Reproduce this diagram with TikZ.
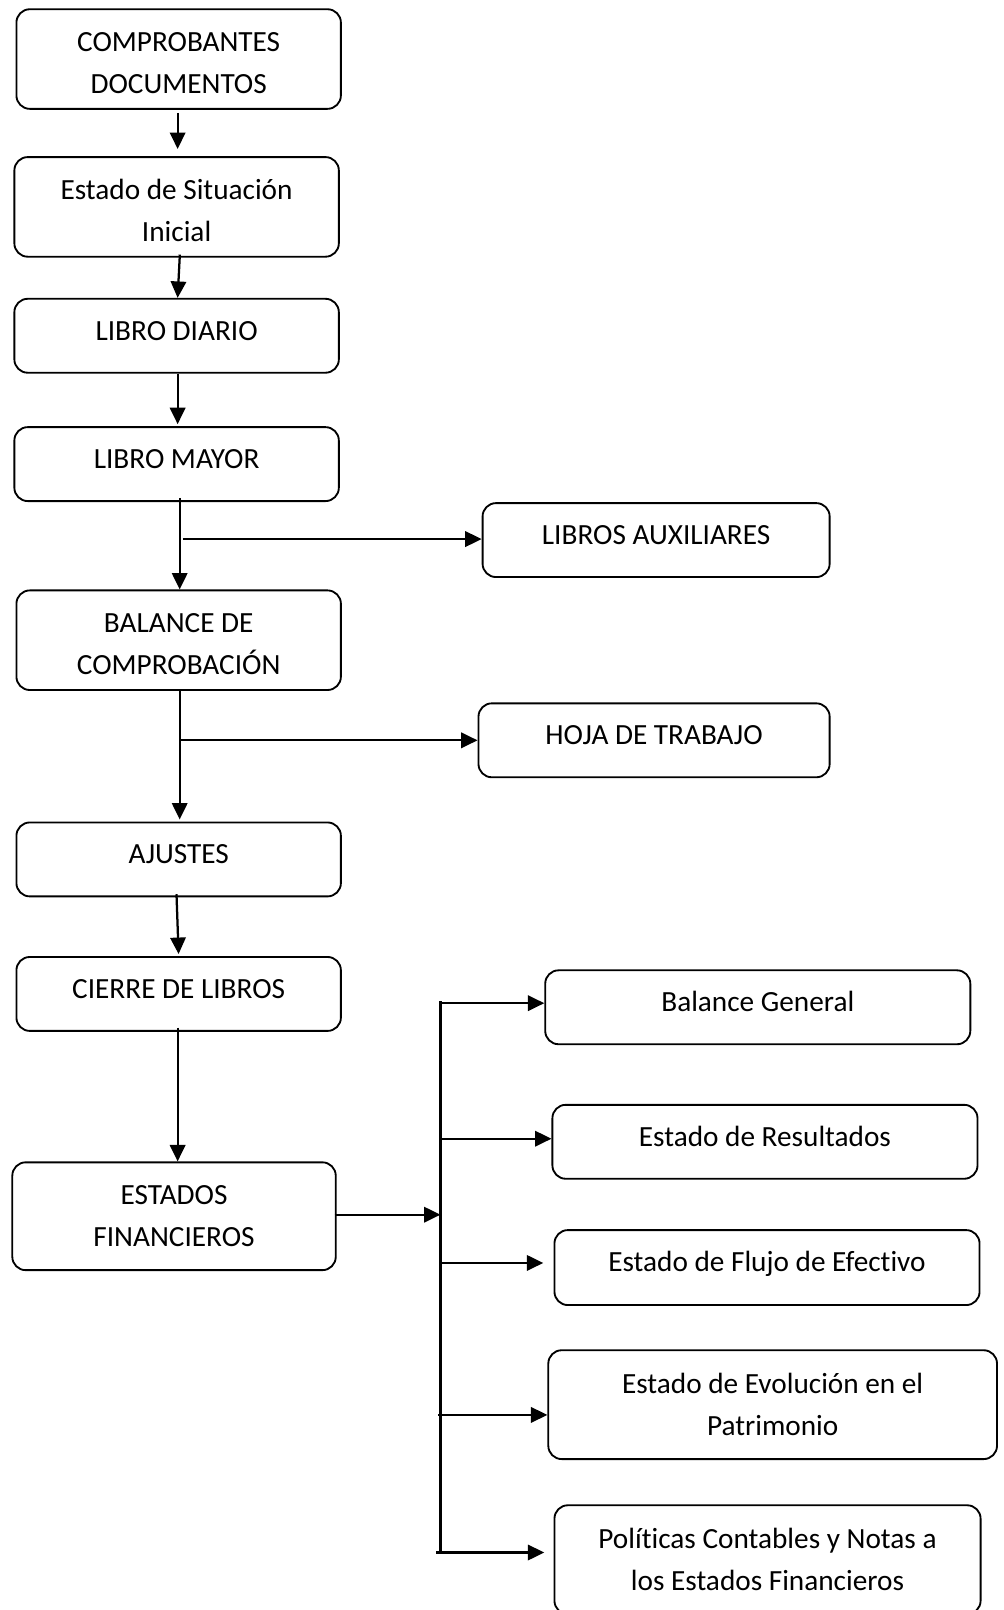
\documentclass[tikz,border=0pt]{standalone}
\usepackage{fontspec}
\setmainfont[Ligatures={NoCommon}]{Carlito}
\usetikzlibrary{arrows.meta}
\begin{document}
\begin{tikzpicture}[x=1pt,y=-1pt,
  box/.style={draw, rounded corners=13pt, line width=1.8pt, inner sep=0pt, align=center,
    font=\fontsize{28.5}{41}\selectfont},
  one/.style={text height=18.4pt, text depth=10pt},
  twodown/.style={text height=67.4pt, text depth=0pt},
  twoc/.style={text height=59.4pt, text depth=0pt},
  arr/.style={line width=2.2pt, -{Triangle[length=16pt,width=15pt]}},
  ln/.style={line width=2.2pt}]
\useasboundingbox[fill=white] (0,0) rectangle (977,1568);
% left column
\node[box,twodown,minimum width=316pt,minimum height=97pt] (comp) at (174,57.5) {COMPROBANTES\\DOCUMENTOS};
\node[box,twodown,minimum width=316pt,minimum height=97pt] (sit) at (172,201.5) {Estado de Situación\\Inicial};
\node[box,one,minimum width=316pt,minimum height=72pt] (diario) at (172,327) {LIBRO DIARIO};
\node[box,one,minimum width=316pt,minimum height=72pt] (mayor) at (172,452) {LIBRO MAYOR};
\node[box,twodown,minimum width=316pt,minimum height=97pt] (balance) at (174,623.5) {BALANCE DE\\COMPROBACIÓN};
\node[box,one,minimum width=316pt,minimum height=72pt] (ajustes) at (174,837) {AJUSTES};
\node[box,one,minimum width=316pt,minimum height=72pt] (cierre) at (174,968) {CIERRE DE LIBROS};
\node[box,twoc,minimum width=315pt,minimum height=105pt] (estados) at (169.5,1184.5) {ESTADOS\\FINANCIEROS};
% middle column
\node[box,one,minimum width=338pt,minimum height=72pt] (aux) at (639,526) {LIBROS AUXILIARES};
\node[box,one,minimum width=342pt,minimum height=72pt] (hoja) at (637,721) {HOJA DE TRABAJO};
% right column
\node[box,one,minimum width=414pt,minimum height=72pt] (bg) at (738,981) {Balance General};
\node[box,one,minimum width=414pt,minimum height=72pt] (res) at (745,1112) {Estado de Resultados};
\node[box,one,minimum width=414pt,minimum height=73pt] (flujo) at (747,1234.5) {Estado de Flujo de Efectivo};
\node[box,twoc,minimum width=437pt,minimum height=106pt] (evol) at (752.5,1368) {Estado de Evolución en el\\Patrimonio};
\node[box,twoc,minimum width=415pt,minimum height=106pt] (pol) at (747.5,1519) {Políticas Contables y Notas a\\los Estados Financieros};
% bus coordinates
\coordinate (bustop) at (429,975);
\coordinate (busbot) at (429,1512);
% vertical chain
\draw[arr, shorten <=3pt, shorten >=7pt] ([xshift=-1pt]comp.south) -- ([xshift=-1pt]comp.south |- sit.north);
\draw[arr, shorten <=-3pt] ([xshift=3pt]sit.south) -- ([xshift=1pt]diario.north);
\draw[arr, shorten >=2pt] ([xshift=1pt]diario.south) -- ([xshift=1pt]mayor.north);
\draw[arr, shorten <=-4pt] ([xshift=1pt]balance.north |- mayor.south) -- ([xshift=1pt]balance.north);
\draw[arr, shorten >=2pt] ([xshift=1pt]balance.south) -- ([xshift=1pt]ajustes.north);
\draw[arr, shorten <=-3pt, shorten >=2pt] ([xshift=-2pt]ajustes.south) -- (cierre.north);
\draw[arr, shorten <=-4pt] ([xshift=-1pt]cierre.south) -- ([xshift=-1pt]cierre.south |- estados.north);
% side branches
\draw[arr] ([xshift=4pt]balance.north |- aux.west) ++(0,-1) -- ([yshift=1pt]aux.west);
\draw[arr] ([xshift=1pt]balance.south |- hoja.west) -- (hoja.west);
% financial statements bus
\draw[arr, shorten <=-2pt] ([yshift=1.5pt]estados.east) -- ([yshift=1.5pt]estados.east -| bustop);
\draw[ln] (bustop) -- (busbot);
\draw[arr] ([yshift=4pt]bg.west -| bustop) -- ([yshift=4pt]bg.west);
\draw[arr] ([yshift=3pt]res.west -| bustop) -- ([yshift=3pt]res.west);
\draw[arr, shorten >=10pt] ([yshift=4.5pt]flujo.west -| bustop) -- ([yshift=4.5pt]flujo.west);
\draw[arr] ([yshift=-10pt]evol.west -| bustop) ++(-2,0) -- ([yshift=-10pt]evol.west);
\draw[arr, shorten >=9pt] ([yshift=7pt]pol.west -| bustop) ++(-4,0) -- ([yshift=7pt]pol.west);
\end{tikzpicture}
\end{document}
